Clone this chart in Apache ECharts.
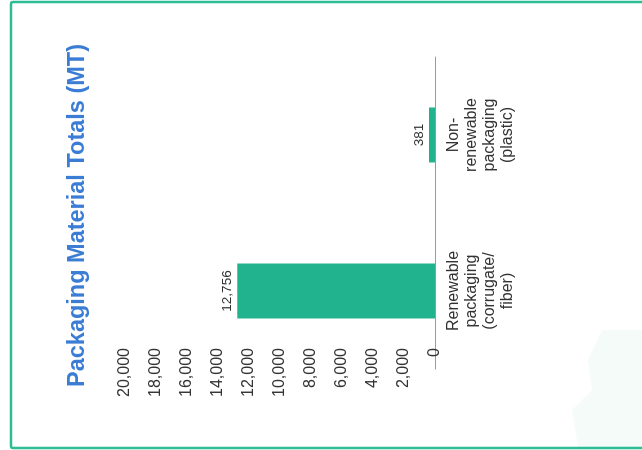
<!DOCTYPE html>
<html>
<head>
<meta charset="utf-8">
<script src="https://cdn.jsdelivr.net/npm/echarts@6/dist/echarts.min.js"></script>
<style>
html,body{margin:0;padding:0;background:#fff;}
#wrap{position:absolute;left:0;top:0;width:642px;height:450px;overflow:hidden;background:#fff;}
#c{position:absolute;width:450px;height:642px;left:96px;top:-96px;transform:rotate(-90deg);}
</style>
</head>
<body>
<div id="wrap"><div id="c"></div></div>
<script>
// Chart data
const titleText = 'Packaging Material Totals (MT)';
const categories = ['Renewable\npackaging\n(corrugate/\nfiber)', 'Non-\nrenewable\npackaging\n(plastic)'];
const values = [12756, 381];
const axisMin = 0;
const axisMax = 20000;
const axisInterval = 2000;

const fmt = v => Number(v).toLocaleString('en-US');
const FONT = '"Liberation Sans", Arial, Helvetica, sans-serif';

const chart = echarts.init(document.getElementById('c'), null, {renderer: 'canvas', width: 450, height: 642});
chart.setOption({
  animation: false,
  backgroundColor: '#ffffff',
  textStyle: {fontFamily: FONT},
  title: {
    text: titleText,
    left: 58,
    top: 61,
    textStyle: {fontFamily: FONT, fontSize: 23.5, fontWeight: 'bold', color: '#3b7dd4'}
  },
  graphic: [{
    type: 'polygon',
    shape: {points: [[3, 645], [3, 578], [40, 572], [60, 592], [90, 588], [120, 602], [120, 645]]},
    style: {fill: '#f5fbf9'},
    silent: true,
    z: -1
  }, {
    type: 'rect',
    shape: {x: 2, y: 11, width: 446, height: 640, r: 2},
    style: {fill: 'none', stroke: '#2dbd95', lineWidth: 2.5},
    silent: true
  }],
  grid: {left: 81, width: 312, top: 125, height: 310, containLabel: false},
  xAxis: {
    type: 'category',
    data: categories,
    axisTick: {show: false},
    axisLine: {lineStyle: {color: '#9a9a9a', width: 1}},
    axisLabel: {fontFamily: FONT, fontSize: 16, lineHeight: 18, color: '#333', margin: 10, interval: 0}
  },
  yAxis: {
    type: 'value',
    min: axisMin,
    max: axisMax,
    interval: axisInterval,
    splitLine: {show: false},
    axisLine: {show: false},
    axisTick: {show: false},
    axisLabel: {fontFamily: FONT, fontSize: 16, color: '#333', margin: -21, formatter: v => fmt(v)}
  },
  series: [{
    type: 'bar',
    data: values,
    barWidth: 55,
    itemStyle: {color: '#20b38e'},
    label: {show: true, position: 'top', distance: 3, fontFamily: FONT, fontSize: 13.5, color: '#333', formatter: p => fmt(p.value)}
  }]
});
</script>
</body>
</html>
